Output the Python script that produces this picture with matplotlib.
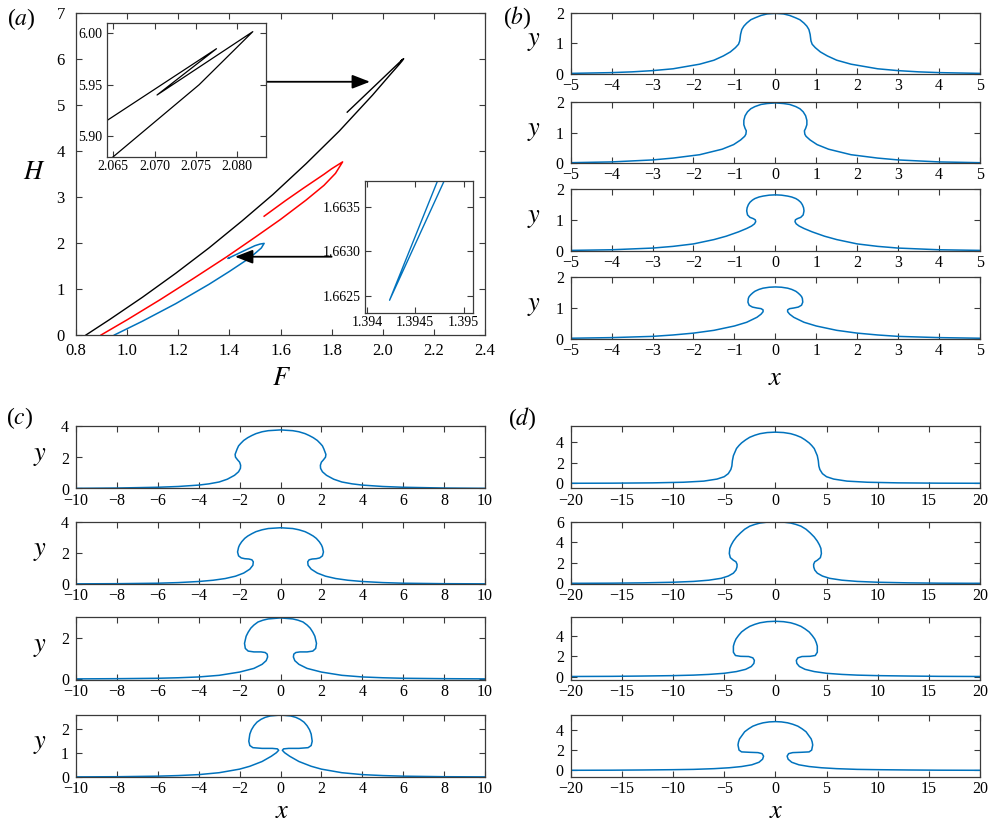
import matplotlib
matplotlib.use('Agg')
import matplotlib.pyplot as plt

plt.rcParams['font.family'] = 'serif'
plt.rcParams['font.serif'] = ['Liberation Serif', 'DejaVu Serif']
plt.rcParams['mathtext.fontset'] = 'stix'

BLUE = '#0072BD'
FRAME = '#3a3a3a'

# ---- panel (a): H against F, three branches ----
black_F = [0.839, 0.93, 1.06, 1.19, 1.32, 1.45, 1.57, 1.70, 1.83, 1.96, 2.03, 2.065, 2.0754, 2.0819,
           2.0703, 2.0775, 2.0642, 1.861]
black_H = [0.0, 0.33, 0.82, 1.34, 1.89, 2.48, 3.05, 3.72, 4.43, 5.21, 5.66, 5.88, 5.95, 6.0016,
           5.940, 5.985, 5.915, 4.84]

red_F = [0.898, 1.00, 1.13, 1.26, 1.39, 1.50, 1.60, 1.70, 1.77, 1.815, 1.843,
         1.80, 1.77, 1.69, 1.62, 1.536]
red_H = [0.0, 0.33, 0.77, 1.23, 1.70, 2.12, 2.51, 2.93, 3.25, 3.51, 3.76,
         3.61, 3.49, 3.19, 2.92, 2.58]

blue_F = [0.950, 1.06, 1.19, 1.32, 1.40, 1.465, 1.50, 1.525, 1.536,
          1.52, 1.50, 1.45, 1.39495, 1.394234, 1.3949, 1.40]
blue_H = [0.0, 0.30, 0.68, 1.10, 1.38, 1.62, 1.77, 1.89, 1.99,
          1.975, 1.94, 1.81, 1.66415, 1.66245, 1.66425, 1.678]

arrow_black = [(1.546, 5.50), (1.95, 5.50)]
arrow_blue = [(1.80, 1.70), (1.422, 1.70)]

# ---- panels (b)-(d): half profiles (crest -> tail), mirrored about x = 0 ----
b1_x = [0, 0.2, 0.35, 0.5, 0.6, 0.7, 0.77, 0.82, 0.85, 0.87, 0.9, 0.975, 1.1, 1.27, 1.5, 1.85, 2.5, 3.0, 3.5, 4.0, 5.0]
b1_y = [1.98, 1.96, 1.91, 1.83, 1.77, 1.66, 1.56, 1.45, 1.29, 1.08, 0.97, 0.86, 0.72, 0.59, 0.45, 0.32, 0.17, 0.11, 0.07, 0.045, 0.02]
b2_x = [0, 0.2, 0.35, 0.5, 0.6, 0.68, 0.74, 0.77, 0.77, 0.74, 0.71, 0.72, 0.75, 0.85, 1.02, 1.3, 1.85, 2.5, 3.0, 4.0, 5.0]
b2_y = [1.97, 1.95, 1.92, 1.85, 1.78, 1.68, 1.55, 1.40, 1.26, 1.14, 1.06, 0.95, 0.88, 0.76, 0.61, 0.46, 0.28, 0.17, 0.11, 0.045, 0.02]
b3_x = [0, 0.15, 0.3, 0.4, 0.5, 0.56, 0.62, 0.66, 0.69, 0.70, 0.68, 0.62, 0.54, 0.49, 0.48, 0.51, 0.58, 0.7, 0.9, 1.2,
        1.5, 2.0, 2.5, 3.0, 4.0, 5.0]
b3_y = [1.82, 1.81, 1.78, 1.75, 1.70, 1.65, 1.58, 1.50, 1.40, 1.30, 1.17, 1.09, 1.05, 1.01, 0.95, 0.88, 0.81, 0.73, 0.62, 0.48,
        0.37, 0.23, 0.15, 0.095, 0.04, 0.02]
b4_x = [0, 0.15, 0.3, 0.4, 0.5, 0.55, 0.6, 0.64, 0.66, 0.67, 0.64, 0.56, 0.45, 0.35, 0.30, 0.30, 0.35, 0.45, 0.7, 1.0,
        1.5, 2.0, 2.5, 3.0, 4.0, 5.0]
b4_y = [1.67, 1.66, 1.63, 1.59, 1.53, 1.48, 1.42, 1.36, 1.30, 1.18, 1.08, 1.02, 0.99, 0.97, 0.93, 0.87, 0.79, 0.69, 0.53, 0.41,
        0.27, 0.18, 0.12, 0.075, 0.035, 0.015]

c1_x = [0, 0.6, 0.9, 1.2, 1.4, 1.6, 1.8, 1.95, 2.05, 2.12, 2.22, 2.2, 2.1, 2.0, 1.95, 1.96, 2.05, 2.25, 2.6, 3.0,
        3.5, 4.0, 5.0, 6.0, 8.0, 10.0]
c1_y = [3.78, 3.73, 3.66, 3.54, 3.42, 3.28, 3.1, 2.9, 2.75, 2.55, 2.2, 2.02, 1.85, 1.7, 1.5, 1.3, 1.08, 0.85, 0.6, 0.42,
        0.3, 0.22, 0.13, 0.08, 0.03, 0.01]
c2_x = [0, 0.6, 0.9, 1.2, 1.4, 1.6, 1.75, 1.9, 2.0, 2.05, 2.1, 2.05, 1.92, 1.75, 1.55, 1.4, 1.33, 1.35, 1.5, 1.8,
        2.2, 2.7, 3.3, 4.0, 5.0, 6.0, 8.0, 10.0]
c2_y = [3.6, 3.55, 3.47, 3.35, 3.22, 3.07, 2.92, 2.7, 2.5, 2.35, 2.05, 1.8, 1.67, 1.62, 1.6, 1.55, 1.42, 1.2, 0.95, 0.7,
        0.5, 0.35, 0.24, 0.16, 0.09, 0.05, 0.02, 0.01]
c3_x = [0, 0.6, 0.85, 1.1, 1.3, 1.45, 1.58, 1.68, 1.76, 1.72, 1.58, 1.3, 0.95, 0.75, 0.65, 0.63, 0.7, 0.9, 1.3, 2.0,
        3.0, 4.0, 5.0, 6.0, 8.0, 10.0]
c3_y = [3.0, 2.95, 2.89, 2.8, 2.65, 2.5, 2.3, 2.1, 1.75, 1.5, 1.37, 1.33, 1.33, 1.3, 1.22, 1.08, 0.9, 0.72, 0.52, 0.34,
        0.18, 0.1, 0.06, 0.035, 0.015, 0.005]
c4_x = [0, 0.5, 0.75, 0.95, 1.15, 1.3, 1.42, 1.5, 1.55, 1.5, 1.35, 0.9, 0.4, 0.15, 0.09, 0.2, 0.45, 0.9, 1.5, 2.0,
        3.0, 4.0, 5.0, 6.0, 8.0, 10.0]
c4_y = [2.6, 2.56, 2.5, 2.42, 2.3, 2.15, 1.98, 1.8, 1.5, 1.32, 1.23, 1.2, 1.2, 1.18, 1.12, 1.02, 0.87, 0.65, 0.45, 0.33,
        0.18, 0.1, 0.06, 0.035, 0.012, 0.005]

d1_x = [0, 0.8, 1.5, 2.0, 2.5, 2.9, 3.3, 3.55, 3.8, 3.95, 4.1, 4.2, 4.25, 4.35, 4.6, 5.0, 5.7, 7.0, 9.0, 12.0,
        16.0, 20.0]
d1_y = [5.0, 4.96, 4.85, 4.7, 4.5, 4.25, 3.95, 3.7, 3.4, 3.05, 2.7, 2.2, 1.7, 1.35, 0.95, 0.65, 0.42, 0.22, 0.11, 0.05,
        0.02, 0.01]
d2_x = [0, 0.8, 1.5, 2.0, 2.5, 3.0, 3.4, 3.8, 4.1, 4.3, 4.45, 4.5, 4.4, 4.1, 3.85, 3.74, 3.75, 3.85, 4.1, 4.6,
        5.3, 6.5, 8.0, 10.0, 13.0, 16.0, 20.0]
d2_y = [5.98, 5.94, 5.85, 5.72, 5.55, 5.25, 4.9, 4.5, 4.1, 3.75, 3.4, 2.9, 2.5, 2.25, 2.1, 1.85, 1.6, 1.3, 1.0, 0.72,
        0.5, 0.32, 0.2, 0.12, 0.06, 0.03, 0.015]
d3_x = [0, 0.8, 1.5, 2.0, 2.5, 2.9, 3.3, 3.6, 3.85, 4.0, 4.1, 4.1, 3.9, 3.4, 2.6, 2.2, 2.05, 2.1, 2.35, 2.9,
        3.8, 5.0, 6.5, 8.0, 10.0, 13.0, 16.0, 20.0]
d3_y = [5.45, 5.41, 5.3, 5.15, 4.95, 4.7, 4.4, 4.05, 3.7, 3.35, 3.0, 2.4, 2.08, 2.0, 1.98, 1.85, 1.6, 1.3, 1.0, 0.72,
        0.5, 0.33, 0.22, 0.15, 0.1, 0.06, 0.03, 0.015]
d4_x = [0, 0.6, 1.2, 1.7, 2.2, 2.6, 3.0, 3.25, 3.5, 3.6, 3.65, 3.55, 3.3, 2.5, 1.7, 1.3, 1.15, 1.25, 1.6, 2.3,
        3.3, 4.5, 6.0, 8.0, 10.0, 13.0, 16.0, 20.0]
d4_y = [4.8, 4.77, 4.68, 4.54, 4.35, 4.1, 3.8, 3.45, 3.1, 2.8, 2.5, 2.0, 1.82, 1.78, 1.75, 1.65, 1.4, 1.1, 0.8, 0.55,
        0.38, 0.26, 0.17, 0.1, 0.07, 0.04, 0.02, 0.01]

W, H = 988, 822
fig = plt.figure(figsize=(W / 100, H / 100), dpi=100)


def px_axes(left, right, top, bottom):
    return fig.add_axes([left / W, 1 - bottom / H, (right - left) / W, (bottom - top) / H])


def style(ax, size, xpad, ypad):
    for s in ax.spines.values():
        s.set_color(FRAME)
        s.set_linewidth(0.9)
    ax.tick_params(direction='in', top=True, right=True, length=4, width=0.8,
                   color=FRAME, labelsize=size)
    ax.tick_params(axis='x', pad=xpad)
    ax.tick_params(axis='y', pad=ypad)


def fig_text(x, y, s, size):
    fig.text(x / W, 1 - y / H, s, ha='center', va='center', fontsize=size)


def mirror(hx, hy):
    xs = [-v for v in reversed(hx)] + hx[1:]
    ys = list(reversed(hy)) + hy[1:]
    return xs, ys


# panel (a)
ax = px_axes(76, 485, 12.7, 335)
style(ax, 12, 6, 8)
ax.plot(black_F, black_H, color='k', lw=1.0)
ax.plot(red_F, red_H, color='red', lw=1.1)
ax.plot(blue_F, blue_H, color=BLUE, lw=1.1)
ax.set_xlim(0.8, 2.4)
ax.set_ylim(0, 7)
ax.set_xticks([0.8, 1.0, 1.2, 1.4, 1.6, 1.8, 2.0, 2.2, 2.4])
ax.set_xticklabels(['0.8', '1.0', '1.2', '1.4', '1.6', '1.8', '2.0', '2.2', '2.4'])
ax.set_yticks(range(8))
for start, end in (arrow_black, arrow_blue):
    ax.annotate('', xy=end, xytext=start,
                arrowprops=dict(arrowstyle='-|>,head_length=0.9,head_width=0.35', color='k',
                                lw=1.3, shrinkA=0, shrinkB=0, mutation_scale=12))

ins1 = px_axes(106.7, 266, 22.7, 156.7)
style(ins1, 10, 2.5, 3)
ins1.plot(black_F, black_H, color='k', lw=0.9)
ins1.set_xlim(2.0642, 2.0835)
ins1.set_ylim(5.880, 6.0103)
ins1.set_xticks([2.065, 2.070, 2.075, 2.080])
ins1.set_xticklabels(['2.065', '2.070', '2.075', '2.080'])
ins1.set_yticks([5.90, 5.95, 6.00])
ins1.set_yticklabels(['5.90', '5.95', '6.00'])

ins2 = px_axes(365, 473.3, 181, 312.7)
style(ins2, 10, 2.5, 3)
ins2.plot(blue_F, blue_H, color=BLUE, lw=1.0)
ins2.set_xlim(1.39398, 1.3951)
ins2.set_ylim(1.66231, 1.66379)
ins2.set_xticks([1.394, 1.3945, 1.395])
ins2.set_xticklabels(['1.394', '1.3945', '1.395'])
ins2.set_yticks([1.6625, 1.6630, 1.6635])
ins2.set_yticklabels(['1.6625', '1.6630', '1.6635'])

fig_text(21, 19, '($a$)', 17)
fig_text(34, 173, '$H$', 19)
fig_text(282, 379, '$F$', 19)

# panels (b), (c), (d)
rows = [(12.7, 74), (102, 163.3), (189.3, 251), (276.7, 338.7)]
rows_low = [(426.5, 488.5), (521.5, 584), (617.3, 680), (715, 777)]

panels = [
    (570.7, 980, rows, [(b1_x, b1_y), (b2_x, b2_y), (b3_x, b3_y), (b4_x, b4_y)],
     (-5, 5), range(-5, 6), [(0, 2)] * 4, [[0, 1, 2]] * 4, True),
    (76, 485, rows_low, [(c1_x, c1_y), (c2_x, c2_y), (c3_x, c3_y), (c4_x, c4_y)],
     (-10, 10), range(-10, 11, 2), [(0, 4), (0, 4), (-0.05, 3.03), (0, 2.6)],
     [[0, 2, 4], [0, 2, 4], [0, 2], [0, 1, 2]], True),
    (570.7, 980, rows_low, [(d1_x, d1_y), (d2_x, d2_y), (d3_x, d3_y), (d4_x, d4_y)],
     (-20, 20), range(-20, 21, 5), [(-0.5, 5.55), (-0.05, 6.0), (-0.33, 5.84), (-0.65, 5.45)],
     [[0, 2, 4], [0, 2, 4, 6], [0, 2, 4], [0, 2, 4]], False),
]

for left, right, rws, profs, xl, xt, yls, yts, ylab in panels:
    for (top, bot), (hx, hy), yl, yt in zip(rws, profs, yls, yts):
        a = px_axes(left, right, top, bot)
        style(a, 11.5, 3, 5)
        xs, ys = mirror(hx, hy)
        a.plot(xs, ys, color=BLUE, lw=1.1)
        a.set_xlim(*xl)
        a.set_ylim(*yl)
        a.set_xticks(list(xt))
        a.set_yticks(yt)
        if ylab:
            fig_text(left - 36.5, (top + bot) / 2 - 1, '$y$', 19)

fig_text(517, 18, '($b$)', 17)
fig_text(20, 418, '($c$)', 17)
fig_text(522, 419, '($d$)', 17)
fig_text(775, 379, '$x$', 19)
fig_text(282, 812, '$x$', 19)
fig_text(776, 812, '$x$', 19)

fig.savefig('out.png', dpi=100)
